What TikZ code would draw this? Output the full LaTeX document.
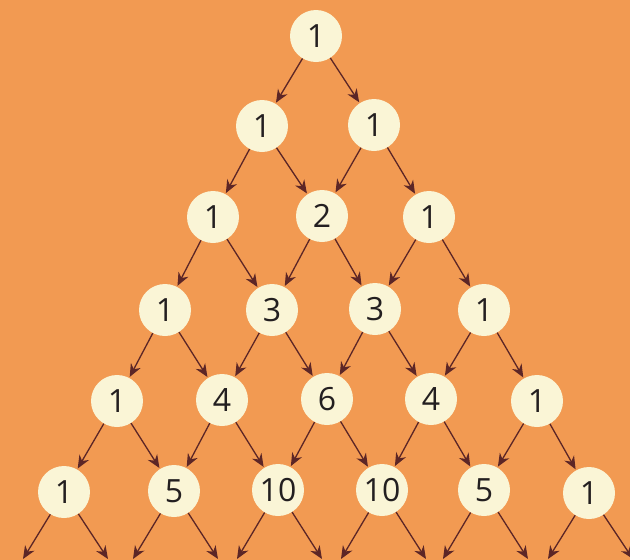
\documentclass[tikz,border=0pt]{standalone}
\usepackage{fontspec}
\setmainfont{Open Sans}
\usetikzlibrary{arrows.meta}
\definecolor{bgorange}{HTML}{F29A52}
\definecolor{cream}{HTML}{FAF5D6}
\definecolor{arrowbrown}{HTML}{5C2626}
\definecolor{txt}{HTML}{231F20}
\tikzset{
  num/.style={circle, fill=cream, minimum size=52pt, inner sep=0pt, text=txt, font=\fontsize{32}{32}\selectfont},
  link/.style={draw=arrowbrown, line width=1.3pt, -{Stealth[length=13pt,width=11pt]}, shorten >=1pt}
}
\begin{document}
\begin{tikzpicture}[x=1pt,y=-1pt]
\useasboundingbox (0,0) rectangle (630,560);
\fill[bgorange] (0,0) rectangle (630,560);
% row 0
\node[num] (n00) at (316,36) {1};
% row 1
\node[num] (n10) at (262,126) {1};
\node[num] (n11) at (374,125) {1};
% row 2
\node[num] (n20) at (213,217) {1};
\node[num] (n21) at (322,216) {2};
\node[num] (n22) at (429,217) {1};
% row 3
\node[num] (n30) at (165,310) {1};
\node[num] (n31) at (272,310) {3};
\node[num] (n32) at (375,309) {3};
\node[num] (n33) at (484,310) {1};
% row 4
\node[num] (n40) at (117,401) {1};
\node[num] (n41) at (222,400) {4};
\node[num] (n42) at (327,399) {6};
\node[num] (n43) at (431,399) {4};
\node[num] (n44) at (537,401) {1};
% row 5
\node[num] (n50) at (64,492) {1};
\node[num] (n51) at (174,491) {5};
\node[num] (n52) at (278,490) {10};
\node[num] (n53) at (382,490) {10};
\node[num] (n54) at (484,490) {5};
\node[num] (n55) at (589,493) {1};
% free ends
\foreach \i/\x in {0/64,1/174,2/278,3/382,4/484,5/589}{
  \coordinate (l\i) at ({\x-41},559);
  \coordinate (r\i) at ({\x+44},559);
}
% arrows
\draw[link] (n00) -- (n10);
\draw[link] (n00) -- (n11);
\draw[link] (n10) -- (n20);
\draw[link] (n10) -- (n21);
\draw[link] (n11) -- (n21);
\draw[link] (n11) -- (n22);
\draw[link] (n20) -- (n30);
\draw[link] (n20) -- (n31);
\draw[link] (n21) -- (n31);
\draw[link] (n21) -- (n32);
\draw[link] (n22) -- (n32);
\draw[link] (n22) -- (n33);
\draw[link] (n30) -- (n40);
\draw[link] (n30) -- (n41);
\draw[link] (n31) -- (n41);
\draw[link] (n31) -- (n42);
\draw[link] (n32) -- (n42);
\draw[link] (n32) -- (n43);
\draw[link] (n33) -- (n43);
\draw[link] (n33) -- (n44);
\draw[link] (n40) -- (n50);
\draw[link] (n40) -- (n51);
\draw[link] (n41) -- (n51);
\draw[link] (n41) -- (n52);
\draw[link] (n42) -- (n52);
\draw[link] (n42) -- (n53);
\draw[link] (n43) -- (n53);
\draw[link] (n43) -- (n54);
\draw[link] (n44) -- (n54);
\draw[link] (n44) -- (n55);
\foreach \i in {0,...,5}{
  \draw[link, shorten >=0pt] (n5\i) -- (l\i);
  \draw[link, shorten >=0pt] (n5\i) -- (r\i);
}
\end{tikzpicture}
\end{document}
